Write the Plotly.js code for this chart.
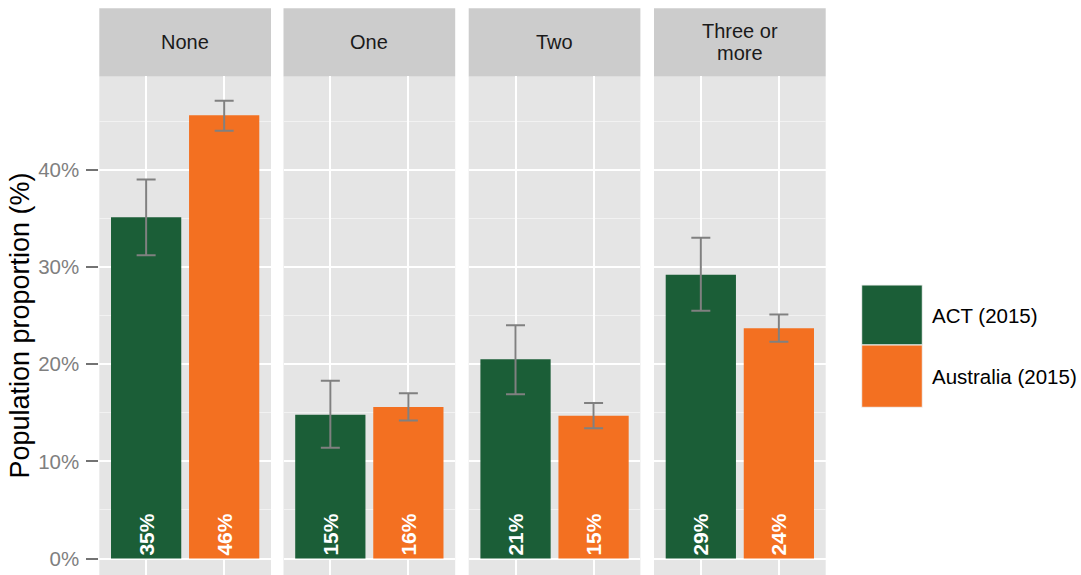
<!DOCTYPE html>
<html><head><meta charset="utf-8">
<script src="https://cdn.plot.ly/plotly-3.0.1.min.js"></script>
<style>html,body{margin:0;padding:0;background:#fff}#chart{width:1081px;height:575px}</style>
</head><body><div id="chart"></div>
<script>
// ---- data ----
const facets = ['None', 'One', 'Two', 'Three or\nmore'];
const series = ['ACT (2015)', 'Australia (2015)'];
const actValues = [35.1, 14.8, 20.5, 29.2];
const actLower  = [31.2, 11.4, 16.9, 25.5];
const actUpper  = [39.0, 18.3, 24.0, 33.0];
const ausValues = [45.6, 15.6, 14.7, 23.7];
const ausLower  = [44.0, 14.2, 13.4, 22.3];
const ausUpper  = [47.1, 17.0, 16.0, 25.1];
const actLabels = ['35%', '15%', '21%', '29%'];
const ausLabels = ['46%', '16%', '15%', '24%'];
const yTickValues = [0, 10, 20, 30, 40];
const yTickLabels = ['0%', '10%', '20%', '30%', '40%'];
const yTitle = 'Population proportion (%)';

// ---- styling / geometry ----
const FONT = '"Liberation Sans", Arial, sans-serif';
const colors = ['#1B5E37', '#F37021'];
const W = 1081, H = 575;
const M = {l: 99, r: 255, t: 76, b: 0};
const plotW = W - M.l - M.r, plotH = H - M.t - M.b;
const panelLeftPx = [99.3, 283.5, 468.7, 654.0];
const panelWPx = 171.7;
const px2x = p => (p - M.l) / plotW;
const px2y = p => (H - M.b - p) / plotH;

const seriesData = [
  {vals: actValues, lo: actLower, hi: actUpper, labels: actLabels},
  {vals: ausValues, lo: ausLower, hi: ausUpper, labels: ausLabels}
];

const traces = [];
const layout = {
  width: W, height: H,
  margin: M,
  paper_bgcolor: '#FFFFFF',
  plot_bgcolor: '#E5E5E5',
  showlegend: false,
  barmode: 'overlay',
  font: {family: FONT, color: '#000'},
  shapes: [],
  annotations: []
};

facets.forEach((facet, i) => {
  const axN = i === 0 ? '' : String(i + 1);
  const xName = 'x' + axN;
  seriesData.forEach((s, k) => {
    traces.push({
      type: 'bar',
      x: [series[k]],
      y: [s.vals[i]],
      xaxis: xName,
      yaxis: 'y',
      name: series[k],
      width: 0.9,
      marker: {color: colors[k], line: {width: 0}},
      text: [s.labels[i]],
      textposition: 'inside',
      insidetextanchor: 'start',
      textangle: -90,
      constraintext: 'none',
      insidetextfont: {family: FONT, size: 21, color: '#FFFFFF', weight: 'bold'},
      error_y: {
        type: 'data', symmetric: false,
        array: [s.hi[i] - s.vals[i]],
        arrayminus: [s.vals[i] - s.lo[i]],
        color: '#808080', thickness: 2, width: 9.5
      },
      hoverinfo: 'skip'
    });
  });
  const left = panelLeftPx[i];
  layout['xaxis' + axN] = {
    domain: [px2x(left), px2x(left + panelWPx)],
    anchor: 'y',
    type: 'category',
    categoryorder: 'array',
    categoryarray: series,
    range: [-0.6, 1.6],
    showticklabels: false,
    ticks: '',
    showgrid: true, gridcolor: '#FFFFFF', gridwidth: 2,
    zeroline: false, showline: false, fixedrange: true
  };
  // strip
  layout.shapes.push({
    type: 'rect', xref: 'paper', yref: 'paper',
    x0: px2x(left), x1: px2x(left + panelWPx),
    y0: px2y(76.3), y1: px2y(8.3),
    fillcolor: '#CCCCCC', line: {width: 0}, layer: 'below'
  });
  const lines = facet.split('\n');
  const lineGap = 22;
  lines.forEach((ln, j) => {
    const cy = 42.3 + (j - (lines.length - 1) / 2) * lineGap;
    layout.annotations.push({
      xref: 'paper', yref: 'paper',
      x: px2x(left + panelWPx / 2), y: px2y(cy),
      xanchor: 'center', yanchor: 'middle',
      text: ln, showarrow: false,
      font: {family: FONT, size: 20, color: '#1A1A1A'}
    });
  });
});

layout.yaxis = {
  domain: [0, 1],
  anchor: 'x',
  range: [-1.69, 49.64],
  tickmode: 'array',
  tickvals: yTickValues,
  ticktext: yTickLabels,
  ticks: 'outside', ticklen: 12, tickwidth: 2, tickcolor: '#737373',
  ticklabelstandoff: 3,
  tickfont: {family: FONT, size: 20.5, color: '#7F7F7F'},
  showgrid: true, gridcolor: '#FFFFFF', gridwidth: 2,
  minor: {dtick: 5, tick0: 0, showgrid: true, gridcolor: '#F2F2F2', gridwidth: 1, ticks: ''},
  zeroline: false, showline: false, fixedrange: true,
  title: {text: yTitle, font: {family: FONT, size: 27, color: '#000'}, standoff: 0}
};

// legend (ggplot-style large keys)
const keyTop = [285, 345], keyBot = [345, 407.3];
series.forEach((name, k) => {
  layout.shapes.push({
    type: 'rect', xref: 'paper', yref: 'paper',
    x0: px2x(861.7), x1: px2x(922.3),
    y0: px2y(keyBot[k]), y1: px2y(keyTop[k]),
    fillcolor: colors[k], line: {width: 1, color: '#F2F2F2'}
  });
  layout.annotations.push({
    xref: 'paper', yref: 'paper',
    x: px2x(930), y: px2y((keyTop[k] + keyBot[k]) / 2),
    xanchor: 'left', yanchor: 'middle',
    text: name, showarrow: false,
    font: {family: FONT, size: 20.5, color: '#000'}
  });
});

Plotly.newPlot('chart', traces, layout, {staticPlot: true, displayModeBar: false});
</script>
</body></html>
